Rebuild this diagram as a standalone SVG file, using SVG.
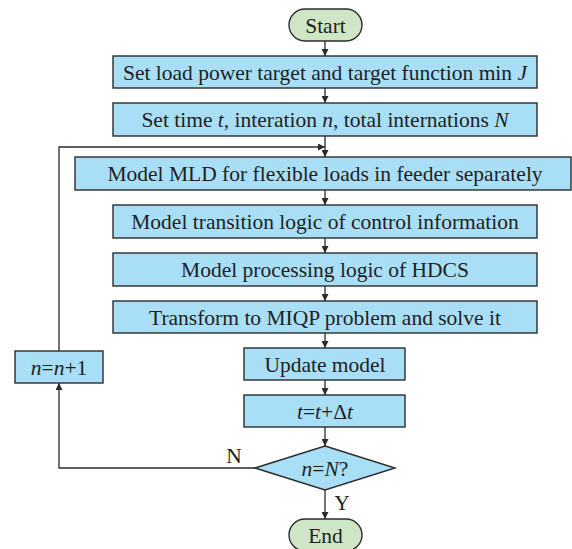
<svg xmlns="http://www.w3.org/2000/svg" width="572" height="549" viewBox="0 0 572 549">
  <defs>
    <marker id="arrow" viewBox="0 0 10 10" refX="10" refY="5" markerWidth="7" markerHeight="7" markerUnits="userSpaceOnUse" orient="auto">
      <path d="M0,0 L10,5 L0,10 z" fill="#2b2b2b"/>
    </marker>
    <style>
      .box { fill: #a9def7; stroke: #2b2b2b; stroke-width: 1.4; }
      .term { fill: #cfe6c6; stroke: #2b2b2b; stroke-width: 1.4; }
      .lbl { font-family: "Liberation Serif", "Times New Roman", serif; font-size: 21.5px; fill: #1f1f1f; text-anchor: middle; }
      .it { font-style: italic; }
      .edge { fill: none; stroke: #2b2b2b; stroke-width: 1.3; }
    </style>
  </defs>
  <rect width="572" height="549" fill="#ffffff"/>

  <!-- connectors -->
  <g id="connectors">
    <path class="edge" d="M325,41 V56" marker-end="url(#arrow)"/>
    <path class="edge" d="M325,88 V103" marker-end="url(#arrow)"/>
    <path class="edge" d="M325,136 V157" marker-end="url(#arrow)"/>
    <path class="edge" d="M325,190 V205" marker-end="url(#arrow)"/>
    <path class="edge" d="M325,238 V253" marker-end="url(#arrow)"/>
    <path class="edge" d="M325,286 V301" marker-end="url(#arrow)"/>
    <path class="edge" d="M325,333 V348" marker-end="url(#arrow)"/>
    <path class="edge" d="M325,380 V395" marker-end="url(#arrow)"/>
    <path class="edge" d="M325,427 V446" marker-end="url(#arrow)"/>
    <path class="edge" d="M325,490 V519" marker-end="url(#arrow)"/>
    <!-- N branch: back to the increment box -->
    <path class="edge" d="M255,468 H59 V383" marker-end="url(#arrow)"/>
    <!-- loop back above the MLD step -->
    <path class="edge" d="M59,351 V147 H325" marker-end="url(#arrow)"/>
    <text class="lbl" x="234" y="463">N</text>
    <text class="lbl" x="342" y="510">Y</text>
  </g>

  <g id="start">
    <rect class="term" x="289" y="9" width="73" height="32" rx="16" ry="16"/>
    <text class="lbl" x="325.5" y="32.5">Start</text>
  </g>

  <g id="set-target">
    <rect class="box" x="113" y="56" width="424" height="32"/>
    <text class="lbl" x="325" y="79.5">Set load power target and target function min <tspan class="it">J</tspan></text>
  </g>

  <g id="set-time">
    <rect class="box" x="113" y="103" width="424" height="33"/>
    <text class="lbl" x="325" y="127">Set time <tspan class="it">t</tspan>, interation <tspan class="it">n</tspan>, total internations <tspan class="it">N</tspan></text>
  </g>

  <g id="model-mld">
    <rect class="box" x="75" y="157" width="496" height="33"/>
    <text class="lbl" x="325" y="181">Model MLD for flexible loads in feeder separately</text>
  </g>

  <g id="model-transition">
    <rect class="box" x="113" y="205" width="424" height="33"/>
    <text class="lbl" x="325" y="229">Model transition logic of control information</text>
  </g>

  <g id="model-processing">
    <rect class="box" x="113" y="253" width="424" height="33"/>
    <text class="lbl" x="325" y="277">Model processing logic of HDCS</text>
  </g>

  <g id="transform-miqp">
    <rect class="box" x="113" y="301" width="424" height="32"/>
    <text class="lbl" x="325" y="324.5">Transform to MIQP problem and solve it</text>
  </g>

  <g id="update-model">
    <rect class="box" x="244" y="348" width="161" height="32"/>
    <text class="lbl" x="325" y="371.5">Update model</text>
  </g>

  <g id="time-step">
    <rect class="box" x="244" y="395" width="161" height="32"/>
    <text class="lbl" x="325" y="418.5"><tspan class="it">t</tspan>=<tspan class="it">t</tspan>+Δ<tspan class="it">t</tspan></text>
  </g>

  <g id="check-n">
    <polygon class="box" points="325,446 395,468 325,490 255,468"/>
    <text class="lbl" x="325" y="475.5"><tspan class="it">n</tspan>=<tspan class="it">N</tspan>?</text>
  </g>

  <g id="increment-n">
    <rect class="box" x="15" y="351" width="88" height="32"/>
    <text class="lbl" x="59" y="374.5"><tspan class="it">n</tspan>=<tspan class="it">n</tspan>+1</text>
  </g>

  <g id="end">
    <rect class="term" x="289" y="519" width="73" height="32" rx="16" ry="16"/>
    <text class="lbl" x="325.5" y="543">End</text>
  </g>
</svg>
